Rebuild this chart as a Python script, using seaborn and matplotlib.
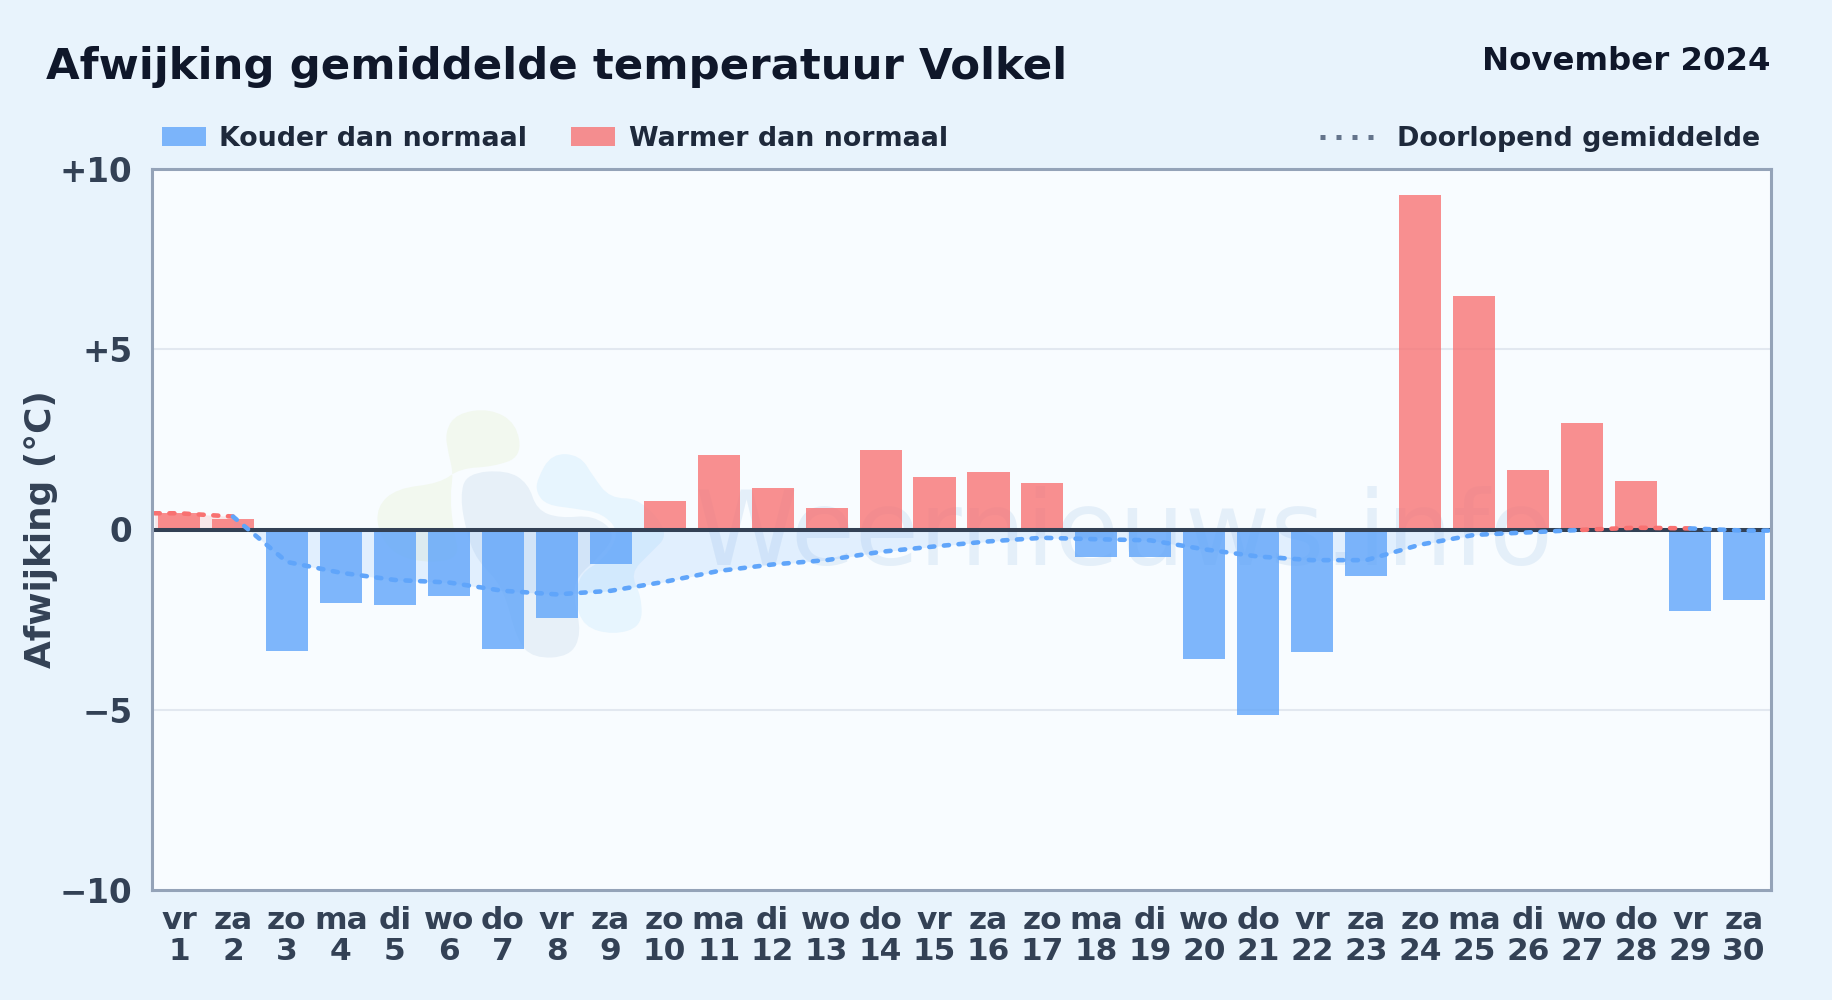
import numpy as np
import pandas as pd
import matplotlib
matplotlib.use("Agg")
import matplotlib.pyplot as plt
from matplotlib.lines import Line2D
from matplotlib.patches import Patch, PathPatch
from matplotlib.path import Path
import seaborn as sns

weekdagen = ["vr","za","zo","ma","di","wo","do","vr","za","zo","ma","di","wo","do","vr",
             "za","zo","ma","di","wo","do","vr","za","zo","ma","di","wo","do","vr","za"]
dagnummers = list(range(1, 31))
afwijking = [0.45,0.28,-3.38,-2.05,-2.1,-1.85,-3.32,-2.45,-0.95,0.8,
             2.08,1.15,0.6,2.2,1.45,1.6,1.3,-0.75,-0.75,-3.6,
             -5.15,-3.4,-1.28,9.28,6.48,1.66,2.95,1.35,-2.25,-1.95]
doorlopend = [0.45,0.36,-0.9,-1.2,-1.4,-1.47,-1.7,-1.8,-1.7,-1.45,
              -1.15,-0.97,-0.85,-0.62,-0.47,-0.33,-0.23,-0.27,-0.3,-0.55,
              -0.75,-0.85,-0.85,-0.42,-0.15,-0.08,-0.01,0.05,0.03,-0.03]
TITEL = "Afwijking gemiddelde temperatuur Volkel"
MAAND = "November 2024"
LEG_KOUD, LEG_WARM, LEG_GEM = "Kouder dan normaal", "Warmer dan normaal", "Doorlopend gemiddelde"
WATERMERK = "Weernieuws.info"
YTICKS = [10, 5, 0, -5, -10]
YLABELS = ["+10", "+5", "0", "\u22125", "\u221210"]

BG, AXBG = "#e8f3fc", "#f8fcff"
BLUE, RED = "#60a5fa", "#f87171"
SLATE = "#334155"

sns.set_theme(style="white")
plt.rcParams["font.family"] = ["DejaVu Sans"]
W, H = 1832, 1000
fig = plt.figure(figsize=(W/100, H/100), dpi=100, facecolor=BG)
ax = fig.add_axes([152/W, 1-890/H, 1619/W, 721/H], facecolor=AXBG)

# faint watermark logo, drawn as smooth blobs (zoom-crop coordinates)
def blob(points, color):
    pts = [(360+x/3, 400+y/3) for x, y in points]
    pts = [(px/W, 1-py/H) for px, py in pts]
    n = len(pts)
    mid = lambda a, b: ((a[0]+b[0])/2, (a[1]+b[1])/2)
    verts, codes = [mid(pts[-1], pts[0])], [Path.MOVETO]
    for i in range(n):
        verts += [pts[i], mid(pts[i], pts[(i+1) % n])]
        codes += [Path.CURVE3, Path.CURVE3]
    ax.add_patch(PathPatch(Path(verts, codes), facecolor=color, edgecolor="none",
                           transform=fig.transFigure, zorder=0.5))

blob([(255,95),(290,40),(390,25),(470,70),(485,170),(400,200),(300,205),(240,250),(110,265),
      (50,320),(55,400),(110,470),(220,490),(300,470),(280,390),(270,290),(280,220),(265,160)], "#f2f8ef")
blob([(530,240),(575,160),(660,165),(700,230),(750,295),(840,295),(930,400),(870,460),(810,520),
      (845,590),(845,680),(760,705),(670,680),(645,600),(660,520),(730,480),(780,400),(730,340),
      (640,325),(560,315),(530,280)], "#e7f5fe")
blob([(300,290),(320,220),(440,210),(505,250),(530,330),(600,355),(700,345),(770,400),(720,470),
      (650,530),(640,590),(665,700),(630,770),(520,775),(470,720),(430,560),(350,480),(320,400)], "#e7f0f8")
ax.text(1124/W, 1-565/H, WATERMERK, transform=fig.transFigure, ha="center", va="baseline",
        fontsize=75, color="#3b82c6", alpha=0.1, zorder=0.6)

for y in (5, -5):
    ax.axhline(y, color="#e2e8f0", lw=1.5, zorder=1)

# tinted areas and running-mean line, coloured per stretch
xs = np.array([-0.45] + list(range(30)) + [29.45], dtype=float)
ys = np.array([doorlopend[0]] + doorlopend + [doorlopend[-1]], dtype=float)
runs, start = [], 0
for i in range(1, len(ys)-1):
    if (ys[i] >= 0) != (ys[i+1] >= 0):
        runs.append((start, i)); start = i
runs.append((start, len(ys)-1))
for a, b in runs:
    kleur = RED if ys[b] >= 0 else BLUE
    rx, ry = xs[a:b+1], ys[a:b+1]
    ax.fill_between(rx, ry, 0, color=kleur, alpha=0.15, lw=0, zorder=1.5)
    sns.lineplot(x=rx, y=ry, ax=ax, color=kleur, lw=3.3, sort=False, errorbar=None, estimator=None,
                 linestyle=(0, (1.1, 2.1)), dash_capstyle="round", zorder=5)

labels = [f"{d}\n{n}" for d, n in zip(weekdagen, dagnummers)]
df = pd.DataFrame({"dag": labels, "afwijking": afwijking,
                   "soort": ["warm" if v >= 0 else "koud" for v in afwijking]})
for soort, kleur, alpha in (("koud", BLUE, 0.8), ("warm", RED, 0.78)):
    sns.barplot(data=df.assign(afwijking=df.afwijking.where(df.soort == soort)), x="dag", y="afwijking",
                order=labels, color=kleur, alpha=alpha, width=0.78, saturation=1, linewidth=0,
                errorbar=None, ax=ax, zorder=2, legend=False)
ax.axhline(0, color=SLATE, lw=2.9, zorder=4)

ax.set_xlim(-0.5, 29.5)
ax.set_ylim(-10, 10)
ax.set_yticks(YTICKS, YLABELS)
ax.set_xlabel("")
ax.set_ylabel("Afwijking (\u00b0C)", fontsize=25.8, fontweight="bold", color=SLATE)
ax.yaxis.set_label_coords((58.5-152)/1619, 0.5)
ax.tick_params(axis="y", length=0, pad=14, labelsize=23.5, labelcolor=SLATE)
ax.tick_params(axis="x", length=0, pad=11.5, labelsize=22.5, labelcolor=SLATE)
for t in ax.get_xticklabels() + ax.get_yticklabels():
    t.set_fontweight("bold")
for t in ax.get_xticklabels():
    t.set_linespacing(1.08)
for s in ax.spines.values():
    s.set_visible(True); s.set_color("#94a3b8"); s.set_linewidth(2.2); s.set_zorder(6)

fig.text(46/W, 1-79/H, TITEL, fontsize=31.3, fontweight="bold", color="#0f172a", va="baseline")
fig.text(1770/W, 1-70/H, MAAND, fontsize=23.3, fontweight="bold", color="#0f172a", va="baseline", ha="right")

h1 = [Patch(color=BLUE, alpha=0.8, lw=0, label=LEG_KOUD), Patch(color=RED, alpha=0.78, lw=0, label=LEG_WARM)]
leg1 = fig.legend(handles=h1, loc="center left", bbox_to_anchor=(162/W, 1-139/H), ncol=2, frameon=False,
                  prop={"size": 19.4, "weight": "bold"}, labelcolor="#1e293b", borderpad=0, borderaxespad=0,
                  handlelength=1.63, handleheight=0.7, handletextpad=0.5, columnspacing=1.63)
h2 = [Line2D([], [], color="#64748b", lw=3.6, linestyle=(0, (1, 2.2)), label=LEG_GEM)]
leg2 = fig.legend(handles=h2, loc="center right", bbox_to_anchor=(1760/W, 1-139/H), frameon=False,
                  prop={"size": 19.4, "weight": "bold"}, labelcolor="#1e293b", borderpad=0, borderaxespad=0,
                  handlelength=2.0, handletextpad=0.85)
fig.savefig("out.png", dpi=100, facecolor=BG)
